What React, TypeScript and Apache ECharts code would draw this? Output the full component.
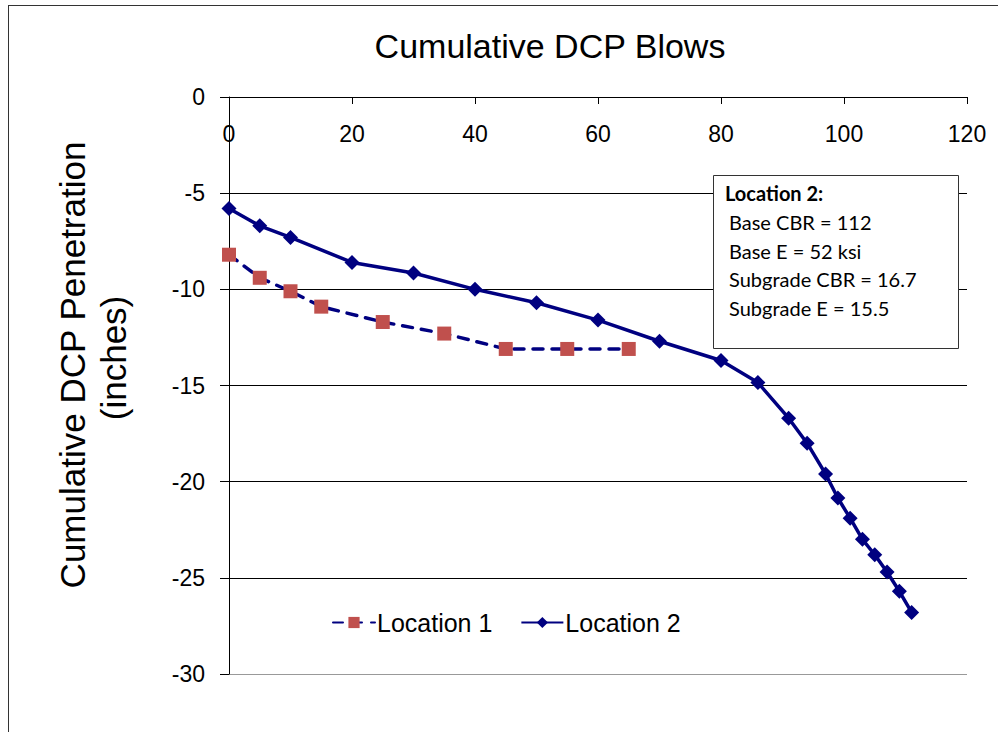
import React, { useEffect, useRef } from "react";
import * as echarts from "echarts";

const loc1X = [0, 5, 10, 15, 25, 35, 45, 55, 65];
const loc1Y = [-8.2, -9.4, -10.1, -10.9, -11.7, -12.3, -13.1, -13.1, -13.1];

const loc2X = [0, 5, 10, 20, 30, 40, 50, 60, 70, 80, 86, 91, 94, 97, 99, 101, 103, 105, 107, 109, 111];
const loc2Y = [-5.8, -6.7, -7.3, -8.6, -9.15, -10.0, -10.7, -11.6, -12.7, -13.7, -14.85, -16.7, -18.0, -19.6, -20.85, -21.9, -23.0, -23.8, -24.7, -25.7, -26.8];

const seriesNames = ["Location 1", "Location 2"];
const chartTitle = "Cumulative DCP Blows";
const yTitleLines = ["Cumulative DCP Penetration", "(inches)"];
const noteTitle = "Location 2:";
const noteLines = ["Base CBR = 112", "Base E = 52 ksi", "Subgrade CBR = 16.7", "Subgrade E = 15.5"];

export default function App() {
  const ref = useRef<HTMLDivElement>(null);
  useEffect(() => {
    if (!ref.current) return;
    const chart = echarts.init(ref.current, null, { renderer: "svg" });
    const pair = (xs: number[], ys: number[]) => xs.map((x, i) => [x, ys[i]]);
    const font = "Liberation Sans, Arial, sans-serif";
    chart.setOption({
      animation: false,
      backgroundColor: "#fff",
      title: {
        text: chartTitle,
        left: 545,
        top: 24,
        textAlign: "center",
        textStyle: { fontFamily: font, fontSize: 34, fontWeight: "normal", color: "#000" },
      },
      grid: { left: 229, top: 97, right: 31, bottom: 58 },
      legend: {
        left: 327,
        top: 605,
        itemWidth: 42,
        itemHeight: 14,
        itemGap: 28,
        textStyle: { fontFamily: font, fontSize: 25, color: "#000", padding: [0, 0, 0, -3] },
        data: seriesNames,
      },
      xAxis: {
        type: "value",
        position: "top",
        min: 0,
        max: 120,
        interval: 20,
        axisLine: { onZero: false, lineStyle: { color: "#000", width: 1 } },
        axisTick: { inside: true, length: 7, lineStyle: { color: "#000" } },
        axisLabel: { inside: true, margin: 25, fontFamily: font, fontSize: 23, color: "#000" },
        splitLine: { show: false },
      },
      yAxis: {
        type: "value",
        min: -30,
        max: 0,
        interval: 5,
        axisLine: { show: true, onZero: false, lineStyle: { color: "#000", width: 1 } },
        axisTick: { show: true, length: 9, lineStyle: { color: "#000" } },
        axisLabel: { margin: 24, fontFamily: font, fontSize: 23, color: "#000" },
        splitLine: { show: true, lineStyle: { color: ["#999", "#000", "#000", "#000", "#000", "#000", "#000"], width: 1 } },
      },
      series: [
        {
          name: seriesNames[0],
          type: "line",
          data: pair(loc1X, loc1Y),
          symbol: "rect",
          symbolSize: 14,
          itemStyle: { color: "#c0504d" },
          lineStyle: { color: "#000080", width: 3.5, type: [10, 9], cap: "round" },
          z: 3,
        },
        {
          name: seriesNames[1],
          type: "line",
          data: pair(loc2X, loc2Y),
          symbol: "diamond",
          symbolSize: 15,
          itemStyle: { color: "#000080" },
          lineStyle: { color: "#000080", width: 3.5 },
          z: 4,
        },
      ],
      graphic: [
        { type: "line", shape: { x1: 8, y1: 5.5, x2: 998, y2: 5.5 }, style: { stroke: "#333", lineWidth: 1 } },
        { type: "line", shape: { x1: 8.5, y1: 5, x2: 8.5, y2: 732 }, style: { stroke: "#333", lineWidth: 1 } },
        {
          type: "text",
          x: 72,
          y: 365,
          rotation: Math.PI / 2,
          style: { text: yTitleLines[0], font: "35px " + font, fill: "#000", textAlign: "center", textVerticalAlign: "middle" },
        },
        {
          type: "text",
          x: 113,
          y: 358,
          rotation: Math.PI / 2,
          style: { text: yTitleLines[1], font: "35px " + font, fill: "#000", textAlign: "center", textVerticalAlign: "middle" },
        },
        {
          type: "rect",
          shape: { x: 713.5, y: 175.5, width: 245, height: 173 },
          style: { fill: "#fff", stroke: "#333", lineWidth: 1 },
          z: 10,
        },
        {
          type: "text",
          x: 725,
          y: 193,
          style: { text: noteTitle, font: "bold 20px Lato, 'Open Sans', sans-serif", fill: "#000", textVerticalAlign: "middle" },
          z: 11,
        },
        ...noteLines.map((t, i) => ({
          type: "text",
          x: 729,
          y: 222 + i * 28.7,
          style: { text: t, font: "20px Lato, 'Open Sans', sans-serif", fill: "#000", textVerticalAlign: "middle" },
          z: 11,
        })),
      ],
    });
    return () => chart.dispose();
  }, []);
  return <div ref={ref} style={{ position: "absolute", left: 0, top: 0, width: 998, height: 732 }} />;
}
